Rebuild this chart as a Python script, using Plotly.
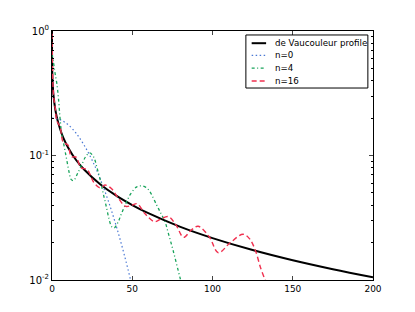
import plotly.graph_objects as go

# de Vaucouleur profile (black solid)
r_dev = [0, 0.1, 0.3, 0.5, 1, 2, 3, 5, 7, 10, 15, 20, 30, 40, 50, 60, 80, 100, 125, 150, 175, 200]
y_dev = [1.0, 0.506, 0.408, 0.361, 0.298, 0.237, 0.203, 0.164, 0.139, 0.116, 0.092, 0.0772,
         0.0588, 0.0476, 0.0400, 0.0344, 0.0267, 0.0217, 0.0174, 0.0144, 0.0122, 0.0105]

# n=0 (blue dotted)
r_n0 = [0, 5, 10, 15, 20, 25, 30, 35, 40, 45, 50]
y_n0 = [0.200, 0.194, 0.177, 0.151, 0.121, 0.0917, 0.0651, 0.0434, 0.0272, 0.0160, 0.00884]

# n=4 (green dash-dot)
r_n4 = [0, 1, 2, 3, 4, 5, 6, 7.5, 9, 10.5, 12, 13.5, 16, 19, 21, 23.5, 26, 28, 30, 32, 34, 35.5,
        37.2, 38.8, 41.3, 43.4, 46, 48.6, 52.8, 55.9, 58.5, 61, 65.2, 67.3, 70.4, 72.5, 75.4, 79.8, 81]
y_n4 = [0.65, 0.55, 0.45, 0.38, 0.29, 0.20, 0.15, 0.12, 0.095, 0.075, 0.064, 0.063, 0.072, 0.087,
        0.098, 0.105, 0.097, 0.080, 0.064, 0.049, 0.038, 0.031, 0.0268, 0.0262, 0.0294, 0.0345,
        0.041, 0.0482, 0.056, 0.0569, 0.0555, 0.0512, 0.040, 0.0354, 0.0294, 0.0237, 0.0174, 0.0104, 0.0092]

# n=16 (red dashed)
r_n16 = [0, 0.5, 1, 2, 3, 5, 7, 10, 12, 15, 18, 22, 26, 30, 33, 37, 41, 46, 50, 53, 58, 64, 68,
         72.5, 77, 82, 86.5, 91, 98, 103.6, 111, 119, 123, 126.5, 130, 133, 134]
y_n16 = [0.95, 0.40, 0.30, 0.24, 0.19, 0.17, 0.128, 0.121, 0.098, 0.097, 0.080, 0.077, 0.061,
         0.055, 0.058, 0.0543, 0.046, 0.039, 0.040, 0.041, 0.034, 0.0294, 0.031, 0.0323, 0.028,
         0.0220, 0.025, 0.0270, 0.0222, 0.01657, 0.0199, 0.0233, 0.0215, 0.0176, 0.0125, 0.0098, 0.009]

series_names = ["de Vaucouleur profile", "n=0", "n=4", "n=16"]
y_ticks = [0.01, 0.1, 1]
y_ticktext = ["10<sup>-2</sup>", "10<sup>-1</sup>", "10<sup>0</sup>"]
x_ticks = [0, 50, 100, 150, 200]

styles = [
    dict(color="black", width=2),
    dict(color="#4a78d4", width=1.2, dash="1.5px,2.5px"),
    dict(color="#17a35a", width=1.3, dash="3px,2.5px,1px,2.5px"),
    dict(color="#f0304f", width=1.4, dash="5px,3px"),
]
data = [(r_dev, y_dev), (r_n0, y_n0), (r_n4, y_n4), (r_n16, y_n16)]

fig = go.Figure()
for (xs, ys), name, st in zip(data, series_names, styles):
    fig.add_trace(go.Scatter(x=xs, y=ys, mode="lines", name=name, showlegend=False,
                             line=dict(shape="spline", **st)))

# compact legend box in the upper right (like matplotlib)
shapes = [dict(type="rect", xref="paper", yref="paper", x0=0.604, x1=0.984, y0=0.771, y1=0.984,
               line=dict(color="black", width=1), fillcolor="white", layer="above")]
annotations = []
leg_y = [0.951, 0.902, 0.851, 0.799]
for name, st, yy in zip(series_names, styles, leg_y):
    shapes.append(dict(type="line", xref="paper", yref="paper", x0=0.622, x1=0.667, y0=yy, y1=yy,
                       line=dict(color=st["color"], width=st["width"], dash=st.get("dash", "solid")),
                       layer="above"))
    annotations.append(dict(xref="paper", yref="paper", x=0.689, y=yy, text=name, showarrow=False,
                            xanchor="left", yanchor="middle", font=dict(size=8.7, color="black")))

minor_vals = [m * 0.01 for m in range(2, 10)] + [m * 0.1 for m in range(2, 10)]

fig.update_layout(
    width=415, height=312,
    margin=dict(l=44, r=50, t=23, b=40),
    paper_bgcolor="white", plot_bgcolor="white",
    font=dict(family="DejaVu Sans", size=10, color="black"),
    showlegend=False,
    shapes=shapes, annotations=annotations,
)
fig.update_xaxes(range=[0, 200], tickvals=x_ticks, ticks="inside", ticklen=4, automargin=False,
                 showline=True, linecolor="black", linewidth=1, mirror="allticks",
                 showgrid=False, zeroline=False, tickfont=dict(size=9))
fig.update_yaxes(type="log", range=[-2, 0], tickvals=y_ticks, ticktext=y_ticktext, automargin=False,
                 ticks="inside", ticklen=4,
                 showline=True, linecolor="black", linewidth=1, mirror="allticks",
                 showgrid=False, zeroline=False, tickfont=dict(size=10),
                 minor=dict(tickvals=minor_vals, ticks="inside", ticklen=2, tickcolor="black", showgrid=False))

fig.write_html("out.html")
